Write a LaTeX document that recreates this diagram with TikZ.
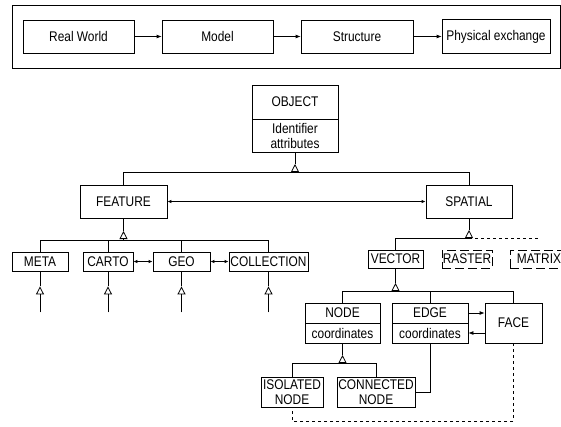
\documentclass[tikz,border=0pt]{standalone}
\usepackage{fontspec}
\setmainfont[FakeStretch=0.85]{Liberation Sans}
\usetikzlibrary{arrows.meta}
\begin{document}
\begin{tikzpicture}[x=1pt,y=-1pt, line width=0.8pt,
 box/.style={draw, rectangle, inner sep=0pt, font=\fontsize{14}{15}\selectfont, align=center},
 dbox/.style={box, dash pattern=on 9pt off 4pt},
 arr/.style={-{Latex[length=5pt,width=4pt]}},
 darr/.style={{Latex[length=4pt,width=3.5pt]}-{Latex[length=4pt,width=3.5pt]}},
 inh/.style={-{Triangle[open,length=8pt,width=8pt]}},
]
\useasboundingbox (0,0) rectangle (561,426);
% top process chain
\draw (12,5) rectangle (560,68);
\node[box, minimum width=111pt, minimum height=33pt] (rw) at (78.5,36.5) {Real World};
\node[box, minimum width=111pt, minimum height=33pt] (model) at (217.5,36.5) {Model};
\node[box, minimum width=112pt, minimum height=33pt] (struct) at (357,36.5) {Structure};
\node[box, minimum width=108pt, minimum height=34pt] (phys) at (496,36.5) {Physical exchange};
\draw[arr] (rw) -- (model);
\draw[arr] (model) -- (struct);
\draw[arr] (struct) -- (phys);
% object
\node[box, minimum width=86pt, minimum height=34pt] (obj) at (295,102) {OBJECT};
\node[box, minimum width=86pt, minimum height=33pt] (objattr) at (295,135.5) {Identifier\\attributes};
\node[box, minimum width=87pt, minimum height=33pt] (feat) at (123.5,201.5) {FEATURE};
\node[box, minimum width=86pt, minimum height=33pt] (spat) at (469,201.5) {SPATIAL};
\coordinate (oj) at (295,172);
\coordinate (ot) at (295,164);
\draw[inh] (oj) -- (ot);
\draw (ot) -- (objattr.south);
\draw (feat.north) -- (feat.north |- oj) -- (spat.north |- oj) -- (spat.north);
\draw[darr] (feat.east) -- (spat.west);
% feature subclasses
\node[box, minimum width=56pt, minimum height=19pt] (meta) at (40,261.5) {META};
\node[box, minimum width=50pt, minimum height=19pt] (carto) at (108,261.5) {CARTO};
\node[box, minimum width=57pt, minimum height=19pt] (geo) at (181.5,261.5) {GEO};
\node[box, minimum width=79pt, minimum height=19pt] (coll) at (268.5,261.5) {COLLECTION};
\coordinate (fj) at (123.5,240);
\coordinate (ft) at (123.5,231);
\draw[inh] (fj) -- (ft);
\draw (ft) -- (feat.south);
\draw (meta.north) -- (meta.north |- fj) -- (coll.north |- fj) -- (coll.north);
\draw (carto.north) -- (carto.north |- fj);
\draw (geo.north) -- (geo.north |- fj);
\draw[darr] (carto.east) -- (geo.west);
\draw[darr] (geo.east) -- (coll.west);
\foreach \n in {meta,carto,geo,coll}{
  \coordinate (\n b) at ([yshift=-41pt]\n.south);
  \coordinate (\n t) at ([yshift=-15pt]\n.south);
  \draw[inh] (\n b) -- (\n t);
  \draw (\n t) -- (\n.south);
}
% spatial subclasses
\node[box, minimum width=55pt, minimum height=18pt] (vec) at (395.5,259) {VECTOR};
\node[dbox, minimum width=50pt, minimum height=18pt] (ras) at (467,259) {RASTER};
\node[dbox, minimum width=58pt, minimum height=18pt] (mat) at (539,259) {MATRIX};
\coordinate (sj) at (469,238);
\coordinate (st) at (469,230);
\draw[inh] (sj) -- (st);
\draw (st) -- (spat.south);
\draw (vec.north) -- (vec.north |- sj) -- (sj);
\draw[dashed] (sj) -- (mat.north |- sj);
% vector subclasses
\node[box, minimum width=75pt, minimum height=20pt] (nodet) at (342.5,313) {NODE};
\node[box, minimum width=75pt, minimum height=20pt] (nodec) at (342.5,333) {coordinates};
\node[box, minimum width=76pt, minimum height=20pt] (edget) at (430,313) {EDGE};
\node[box, minimum width=76pt, minimum height=20pt] (edgec) at (430,333) {coordinates};
\node[box, minimum width=57pt, minimum height=40pt] (face) at (513.5,323) {FACE};
\coordinate (vj) at (395.5,291);
\coordinate (vt) at (395.5,283);
\draw[inh] (vj) -- (vt);
\draw (vt) -- (vec.south);
\draw (nodet.north) -- (nodet.north |- vj) -- (face.north |- vj) -- (face.north);
\draw (edget.north) -- (edget.north |- vj);
\draw[arr] (edget.east) -- (edget.east -| face.west);
\draw[arr] (face.west |- edgec.east) -- (edgec.east);
% node subclasses
\node[box, minimum width=62pt, minimum height=30pt] (iso) at (292,392) {ISOLATED\\NODE};
\node[box, minimum width=78pt, minimum height=30pt] (conn) at (376,392) {CONNECTED\\NODE};
\coordinate (nj) at (342.5,363);
\coordinate (nt) at (342.5,355);
\draw[inh] (nj) -- (nt);
\draw (nt) -- (nodec.south);
\draw (iso.north) -- (iso.north |- nj) -- (conn.north |- nj) -- (conn.north);
\draw (edgec.south) |- (conn.east);
\coordinate (fb) at (513.5,421);
\draw[dashed] (face.south) -- (fb) -| (iso.south);
\end{tikzpicture}
\end{document}
